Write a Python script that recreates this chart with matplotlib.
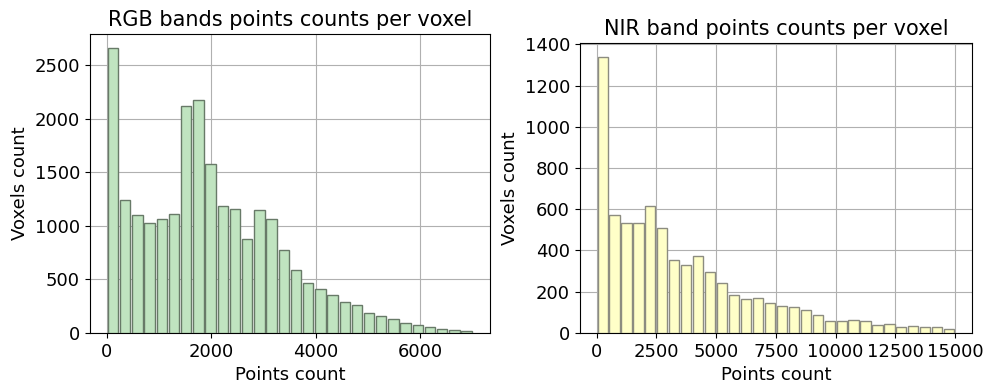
import numpy as np
import matplotlib
matplotlib.use('Agg')
import matplotlib.pyplot as plt
from matplotlib.ticker import MultipleLocator

# bar heights (30 bins each)
rgb_counts = [2660, 1240, 1100, 1030, 1060, 1115, 2125, 2180, 1575, 1185,
              1160, 875, 1145, 1060, 770, 585, 470, 410, 350, 285,
              260, 185, 155, 130, 95, 75, 50, 35, 25, 15]
rgb_range = (0, 7000)

nir_counts = [1340, 570, 535, 535, 615, 510, 355, 330, 375, 295,
              240, 185, 165, 170, 145, 130, 125, 110, 85, 55,
              55, 60, 55, 40, 45, 30, 35, 30, 30, 20]
nir_range = (0, 15000)

fig = plt.figure(figsize=(9.96, 3.83), dpi=100)
ax1 = fig.add_axes([0.090, 0.131, 0.402, 0.780])
ax2 = fig.add_axes([0.582, 0.131, 0.394, 0.757])


def draw(ax, counts, rng, face, edge, title):
    edges = np.linspace(rng[0], rng[1], len(counts) + 1)
    centers = (edges[:-1] + edges[1:]) / 2
    ax.hist(centers, bins=edges, weights=counts, rwidth=0.85,
            facecolor=face, edgecolor=edge, linewidth=1, zorder=3)
    ax.grid(True, color='#b0b0b0', linewidth=0.8, zorder=0)
    ax.set_axisbelow(True)
    ax.set_title(title, fontsize=15)
    ax.set_xlabel('Points count', fontsize=13)
    ax.set_ylabel('Voxels count', fontsize=13)
    ax.tick_params(labelsize=13)


draw(ax1, rgb_counts, rgb_range, '#c0e4c0', '#687a68',
     'RGB bands points counts per voxel')
draw(ax2, nir_counts, nir_range, '#ffffc8', '#8c8c80',
     'NIR band points counts per voxel')
ax1.xaxis.set_major_locator(MultipleLocator(2000))

fig.savefig('out.png', dpi=100)
